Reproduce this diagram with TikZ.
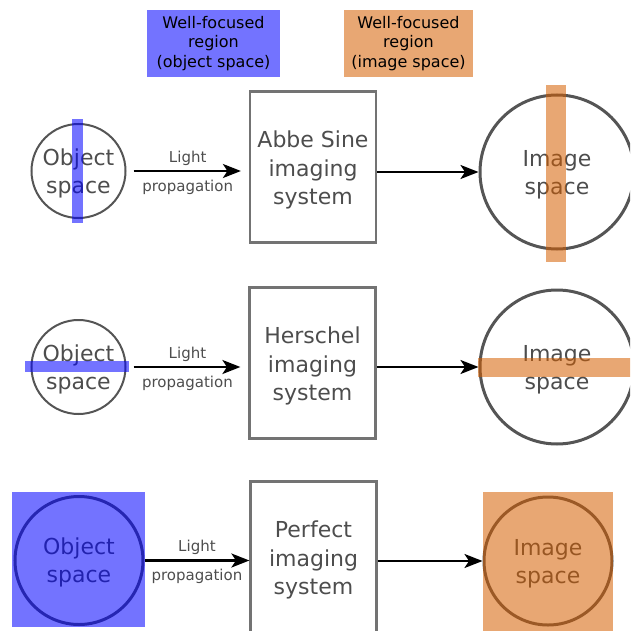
\documentclass[tikz,border=0pt]{standalone}
\usepackage{fontspec}
\setmainfont{DejaVu Sans}
\usetikzlibrary{arrows.meta}
\definecolor{objblue}{RGB}{0,0,255}
\definecolor{imgorange}{RGB}{213,94,0}
\definecolor{txtgray}{RGB}{77,77,77}
\definecolor{linegray}{RGB}{85,85,85}
\definecolor{boxgray}{RGB}{115,115,115}

\begin{document}
\begin{tikzpicture}[x=1pt, y=-1pt,
  space/.style={circle, draw=linegray, text=txtgray, align=center, inner sep=0pt,
    text height=49.5pt, font=\fontsize{22}{28}\selectfont},
  system/.style={rectangle, draw=boxgray, line width=2.2pt, text=txtgray, align=center,
    minimum width=126pt, minimum height=151pt, text height=80pt,
    font=\fontsize{22}{28.5}\selectfont},
  light/.style={-{Stealth[length=18pt,width=14pt,inset=4.5pt]}, line width=2.2pt, black},
  lbl/.style={text=txtgray, font=\fontsize{15}{18}\selectfont},
  focus/.style={draw=none, fill opacity=0.55, inner sep=0pt},
  key/.style={draw=none, fill opacity=0.55, text opacity=1, align=center,
    minimum height=67pt, font=\fontsize{16}{19.5}\selectfont}
]

\clip (0,0) rectangle (630,631);

% legend for the two colours
\node[key, fill=objblue, minimum width=133pt] (objkey) at (213.5,43.5)
  {Well-focused\\region\\(object space)};
\node[key, fill=imgorange, minimum width=129pt] (imgkey) at (408.5,43.5)
  {Well-focused\\region\\(image space)};

% Abbe sine condition: focused along the axis
\node[space, minimum size=94pt, line width=2pt] (obj1) at (78.5,171) {Object\\space};
\node[system] (sys1) at (313,167) {Abbe Sine\\imaging\\system};
\node[space, minimum size=154pt, line width=3pt] (img1) at (557,172) {Image\\space};
\draw[light, shorten <=7pt, shorten >=8pt] (obj1) -- (obj1 -| sys1.west)
  node[lbl, midway, yshift=13pt] (lighta) {Light}
  node[lbl, midway, yshift=-16pt] (propa) {propagation};
\draw[light] (img1 -| sys1.east) -- (img1);
\node[focus, fill=objblue, minimum width=11pt, minimum height=104pt] (bar1) at (77.5,171) {};
\node[focus, fill=imgorange, minimum width=20pt, minimum height=177pt] (band1) at (556,173.5) {};

% Herschel condition: focused across the axis
\node[space, minimum size=94pt, line width=2pt] (obj2) at (78.5,367) {Object\\space};
\node[system] (sys2) at (312.5,363) {Herschel\\imaging\\system};
\node[space, minimum size=154pt, line width=3pt] (img2) at (557,367) {Image\\space};
\draw[light, shorten <=7pt, shorten >=8pt] (obj2) -- (obj2 -| sys2.west)
  node[lbl, midway, yshift=13pt] (lightb) {Light}
  node[lbl, midway, yshift=-16pt] (propb) {propagation};
\draw[light] (img2 -| sys2.east) -- (img2);
\node[focus, fill=objblue, minimum width=104pt, minimum height=10.7pt] (bar2) at (77,366.3) {};
\node[focus, fill=imgorange, minimum width=160pt, minimum height=19pt] (band2) at (558,367.3) {};

% perfect system: the whole space
\node[space, minimum size=128pt, line width=3pt] (obj3) at (79,560.5) {Object\\space};
\node[system] (sys3) at (313.5,557) {Perfect\\imaging\\system};
\node[space, minimum size=128pt, line width=3pt] (img3) at (548,561) {Image\\space};
\draw[light] (obj3) -- (obj3 -| sys3.west)
  node[lbl, midway, yshift=13pt] (lightc) {Light}
  node[lbl, midway, yshift=-16pt] (propc) {propagation};
\draw[light] (img3 -| sys3.east) -- (img3);
\node[focus, fill=objblue, minimum width=133pt, minimum height=135pt] (bar3) at (78.5,559.7) {};
\node[focus, fill=imgorange, minimum width=130pt, minimum height=139pt] (band3) at (547.5,561.5) {};

\end{tikzpicture}
\end{document}
